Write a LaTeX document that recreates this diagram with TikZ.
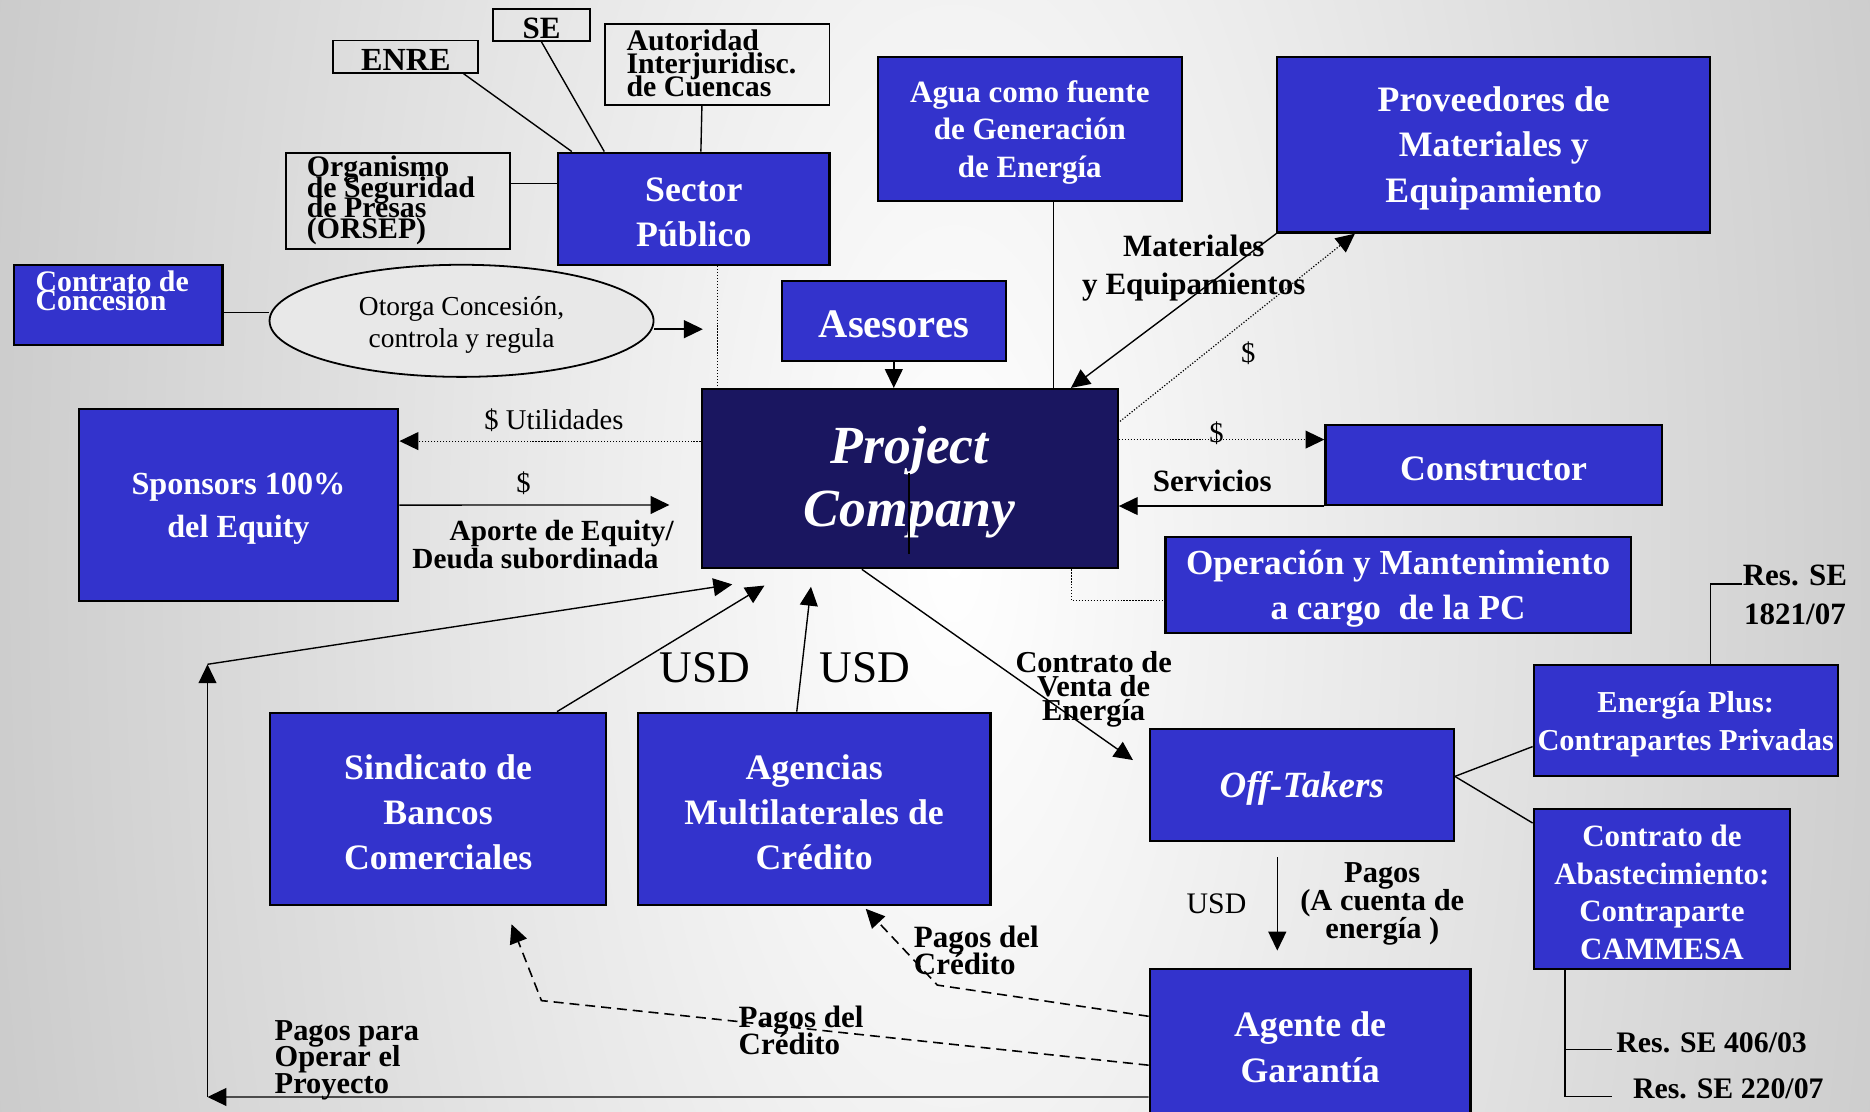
\documentclass[tikz,border=0pt]{standalone}
\usepackage{fontspec}
\setmainfont{Liberation Serif}
\usetikzlibrary{arrows.meta,calc,shapes.geometric}
\definecolor{boxblue}{RGB}{51,51,204}
\definecolor{pcnavy}{RGB}{26,22,96}
\definecolor{bgedge}{RGB}{155,155,155}
\definecolor{ellfill}{RGB}{232,232,232}
\newcommand{\fz}[2]{\fontsize{#1pt}{#2pt}\selectfont\lineskiplimit=-100pt\relax}
\newcommand{\mybox}[8]{\node[#6, minimum width={(#4-#2)*0.6pt}, minimum height={(#5-#3)*0.6pt}] (#1) at ({(#2+#4)/2},{(#3+#5)/2}) {};
  \node[#7] (#1T) at ($(#1.center)+(0,3)$) {#8};}
\begin{document}
\begin{tikzpicture}[x=0.6pt,y=-0.6pt,
 bluebox/.style={draw=black, line width=1.1pt, fill=boxblue, inner sep=0pt},
 btext/.style={text=white, align=center, inner sep=0pt, font=\bfseries},
 wbox/.style={draw=black, line width=0.9pt, inner sep=0pt},
 lbl/.style={text=black, inner sep=0pt, font=\bfseries, align=center},
 reg/.style={text=black, inner sep=0pt, font=\fz{14.4}{16}},
 conn/.style={line width=0.7pt},
 tip/.style={-{Triangle[length=9.5pt,width=9pt]}},
 arr/.style={conn, tip},
 dotl/.style={line width=0.6pt, dash pattern=on 0.6pt off 0.9pt},
 dotarr/.style={dotl, tip},
 dashl/.style={line width=0.8pt, dash pattern=on 5pt off 3pt},
 dasharr/.style={dashl, tip},
]
% background
\useasboundingbox (0,0) rectangle (1568,932);
\clip (0,0) rectangle (1568,932);
\shade[inner color=white, outer color=bgedge] (-800,-3234) rectangle (2400,4166);

% regulators
\mybox{se}{413.6}{7.5}{494.5}{34.4}{wbox}{lbl, font=\bfseries\fz{15.6}{18}}{SE}
\mybox{enre}{279.5}{34}{401}{61}{wbox}{lbl, font=\bfseries\fz{16.2}{18}}{ENRE}
\node[wbox, minimum width={187.9*0.6pt}, minimum height={67.6*0.6pt}] (aut) at (601.55,54.2) {};
\node[lbl, align=left, anchor=west, font=\bfseries\fz{15}{11.7}] (autT) at (525,53) {Autoridad\\Interjuridisc.\\de Cuencas};
\node[wbox, minimum width={188.2*0.6pt}, minimum height={80.5*0.6pt}] (org) at (333.6,168.25) {};
\node[lbl, align=left, anchor=west, font=\bfseries\fz{15}{10.4}] (orgT) at (257,168) {Organismo\\de Seguridad\\de Presas\\(ORSEP)};
\mybox{sector}{468}{128}{695.5}{222}{bluebox}{btext, font=\bfseries\fz{18}{22.8}}{Sector\\Público}

\draw[conn] ($(enre.south)+(48.4,0)$) -- ($(sector.north west)+(12.4,0)$);
\draw[conn] (se.south) -- ($(sector.north west)+(39.6,0)$);
\draw[conn] ($(aut.south)+(-13,0)$) -- ($(sector.north west)+(120.6,0)$);
\coordinate (o1) at ($(org.north east)+(0,26.6)$);
\draw[conn] (o1) -- (o1 -| sector.west);

% concession
\node[bluebox, minimum width={175.1*0.6pt}, minimum height={67*0.6pt}] (cc) at (98.95,255.5) {};
\node[anchor=west, text=white, align=left, inner sep=0pt, font=\bfseries\fz{15}{9.4}] (ccT) at (29.5,244) {Contrato de\\Concesión};
\node[draw=black, line width=0.9pt, fill=ellfill, ellipse, minimum width={322*0.6pt}, minimum height={94*0.6pt}, inner sep=0pt] (ell) at (387,269) {};
\node[inner sep=0pt, align=center, font=\fz{13.8}{16.2}] (ellT) at (387,272.5) {Otorga Concesión,\\controla y regula};
\coordinate (c1) at ($(cc.east)+(0,6.5)$);
\draw[conn] (c1) -- (c1 -| ell.west);
\coordinate (e1) at ($(ell.east)+(0,7)$);
\coordinate (e2) at ($(e1)+(40.6,0)$);
\draw[arr] (e1) -- (e2);

% center
\mybox{pc}{588.4}{326.2}{937.2}{476.5}{bluebox, fill=pcnavy}{btext, font=\bfseries\itshape\fz{27}{31.8}}{Project\\Company}
\draw[line width=0.8pt] ($(pc.south west)+(174.6,-13)$) -- ($(pc.south west)+(174.6,-81)$);
\coordinate (s1) at ($(sector.south)+(20,0)$);
\draw[dotl] (s1) -- (s1 |- pc.north);

\mybox{ases}{655.4}{235.6}{843.5}{302.4}{bluebox}{btext, font=\bfseries\fz{20.4}{24}}{Asesores}
\draw[arr] (ases.south) -- (ases.south |- pc.north);

\mybox{agua}{736}{47.5}{991}{168.5}{bluebox}{btext, font=\bfseries\fz{15.6}{19}}{Agua como fuente\\de Generación\\de Energía}
\coordinate (a1) at ($(agua.south)+(20,0)$);
\draw[conn] (a1) -- (a1 |- pc.north);

\mybox{prov}{1071}{47.5}{1434}{195}{bluebox}{btext, font=\bfseries\fz{18}{22.8}}{Proveedores de\\Materiales y\\Equipamiento}
\draw[arr] (prov.south west) -- ($(pc.north west)+(310.5,0)$);
\node[lbl, font=\bfseries\fz{15.6}{19.2}] (matT) at (1001,225) {Materiales\\y Equipamientos};
\draw[dotarr] ($(pc.north east)+(1,28)$) -- ($(prov.south west)+(66,0)$);
\node[reg] (d1) at (1046.6,296) {\$};

\mybox{cons}{1111.4}{356.4}{1393.4}{423.4}{bluebox}{btext, font=\bfseries\fz{18}{22}}{Constructor}
\coordinate (k1) at ($(pc.north east)+(0,43.3)$);
\draw[dotarr] (k1) -- (k1 -| cons.west);
\node[reg] (d2) at (1020,363) {\$};
\draw[arr] (cons.south west) -- (cons.south west -| pc.east);
\node[lbl, font=\bfseries\fz{15.6}{18}] (servT) at (1016.5,403) {Servicios};

\mybox{om}{977.3}{450}{1367.3}{531}{bluebox}{btext, font=\bfseries\fz{17.7}{22.8}}{Operación y Mantenimiento\\a cargo\ \ de la PC}
\coordinate (m1) at ($(pc.south east)+(-40,0)$);
\coordinate (m2) at ($(om.west)+(0,13)$);
\draw[dotl] (m1) |- (m2);

% sponsors
\mybox{spon}{65.9}{343}{334}{504}{bluebox}{btext, font=\bfseries\fz{16.2}{21.6}}{Sponsors 100\%\\del Equity}
\coordinate (u1) at ($(pc.west)+(0,-31.5)$);
\draw[dotarr] (u1) -- (u1 -| spon.east);
\node[reg] (utT) at (464.5,352) {\$ Utilidades};
\coordinate (eq1) at (561.3,423.4);
\draw[arr] (spon.east) -- (eq1);
\node[reg] (d3) at (439,405) {\$};
\node[lbl, font=\bfseries\fz{14.7}{13.8}] (apT) at (449,456.5) {\hspace*{26.4pt}Aporte de Equity/\\Deuda subordinada};

% lenders
\mybox{sind}{226.7}{597.6}{508}{758.6}{bluebox}{btext, font=\bfseries\fz{18}{22.8}}{Sindicato de\\Bancos\\Comerciales}
\mybox{agen}{534.8}{597.6}{830.5}{758.6}{bluebox}{btext, font=\bfseries\fz{18}{22.8}}{Agencias\\Multilaterales de\\Crédito}
\coordinate (t1) at (614,490);
\coordinate (t2) at (641,491);
\coordinate (t3) at (680,492);
\draw[arr] ($(sind.north west)+(241.3,0)$) -- (t2);
\draw[arr] ($(agen.north west)+(134.2,0)$) -- (t3);
\node[reg, font=\fz{22.8}{26}] (usd1) at (591,560) {USD};
\node[reg, font=\fz{22.8}{26}] (usd2) at (725,560) {USD};

% off-takers
\mybox{offt}{964}{611}{1219}{705}{bluebox}{btext, font=\bfseries\itshape\fz{18.6}{22}}{Off-Takers}
\coordinate (v1) at (950,637.3);
\draw[arr] ($(pc.south west)+(135.2,0)$) -- (v1);
\node[lbl, font=\bfseries\fz{15.3}{12}] (cvT) at (917,578) {Contrato de\\Venta de\\Energía};

\mybox{ep}{1286}{557.6}{1541}{651}{bluebox}{btext, font=\bfseries\fz{15.3}{18.9}}{Energía Plus:\\Contrapartes Privadas}
\mybox{cam}{1286}{678}{1501}{812.5}{bluebox}{btext, font=\bfseries\fz{15.6}{19}}{Contrato de\\Abastecimiento:\\Contraparte\\CAMMESA}
\coordinate (o2) at ($(offt.east)+(0,-7)$);
\draw[conn] (o2) -- ($(ep.west)+(0,21.7)$);
\draw[conn] (o2) -- ($(cam.north west)+(0,13)$);

\coordinate (r1) at ($(ep.north)+(20.5,0)$);
\coordinate (r2) at (1461,489.7);
\draw[conn] (r1) |- (r2);
\node[lbl, anchor=west, font=\bfseries\fz{15.6}{19.8}] (r1T) at (1461,499) {Res. SE\\1821/07};

\coordinate (q1) at ($(cam.south west)+(27,0)$);
\coordinate (q2) at (1352,880);
\coordinate (q3) at (1352,919.6);
\draw[conn] (q1) |- (q3);
\draw[conn] (q1 |- q2) -- (q2);
\node[lbl, anchor=west, font=\bfseries\fz{15}{18}] (r2T) at (1355,874) {Res. SE 406/03};
\node[lbl, anchor=west, font=\bfseries\fz{15}{18}] (r3T) at (1369,913) {Res. SE 220/07};

% guarantee agent
\mybox{agente}{964}{812.3}{1233}{938}{bluebox}{btext, font=\bfseries\fz{18}{22.8}}{Agente de\\Garantía}
\coordinate (p1) at ($(offt.south)+(-20.5,13)$);
\coordinate (p2) at ($(agente.north)+(-27.5,-14.3)$);
\draw[arr] (p1) -- (p2);
\node[reg, font=\fz{15}{18}] (usd3) at (1020,758) {USD};
\node[lbl, font=\bfseries\fz{15.3}{14.2}] (pgT) at (1159,758) {Pagos\\(A cuenta de\\energía )};

\coordinate (h1) at ($(agente.west)+(0,-23)$);
\coordinate (h2) at (786,826);
\coordinate (h3) at ($(agen.south east)+(-105.5,2.5)$);
\draw[dasharr] (h1) -- (h2) -- (h3);
\node[lbl, align=left, anchor=west, font=\bfseries\fz{15.6}{13.8}] (pd1) at (766,797) {Pagos del\\Crédito};

\coordinate (j1) at ($(agente.west)+(0,18)$);
\coordinate (j2) at (454,839);
\coordinate (j3) at ($(sind.south east)+(-80,15.5)$);
\draw[dasharr] (j1) -- (j2) -- (j3);
\node[lbl, align=left, anchor=west, font=\bfseries\fz{15.6}{13.8}] (pd2) at (619,864) {Pagos del\\Crédito};

% operating payments loop
\coordinate (g1) at ($(agente.west)+(0,44.7)$);
\coordinate (g2) at (174,919.8);
\coordinate (g3) at (174,557);
\draw[arr] (g1) -- (g2);
\draw[arr] (g2) -- (g3);
\draw[arr] (g3) -- (t1);
\node[lbl, align=left, anchor=west, font=\bfseries\fz{15.3}{13.2}] (ppT) at (230,889) {Pagos para\\Operar el\\Proyecto};
\end{tikzpicture}
\end{document}
